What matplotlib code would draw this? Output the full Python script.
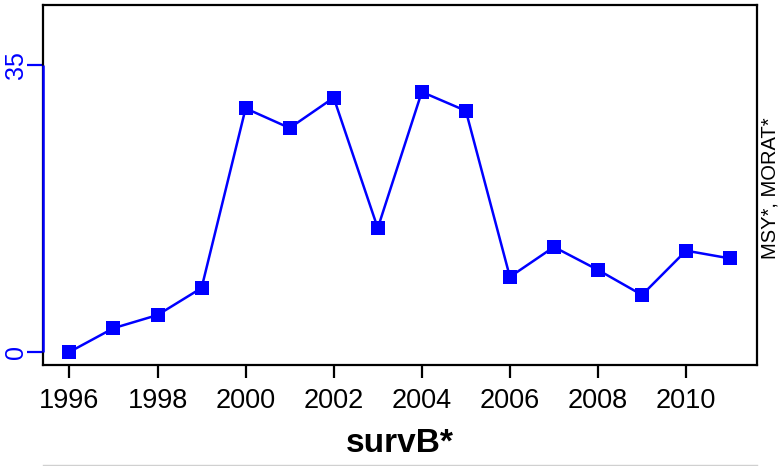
import matplotlib
matplotlib.use("Agg")
import matplotlib.pyplot as plt
from matplotlib.lines import Line2D
from matplotlib.transforms import ScaledTranslation

plt.rcParams['font.family'] = ['Liberation Sans', 'DejaVu Sans']

years = [1996, 1997, 1998, 1999, 2000, 2001, 2002, 2003,
         2004, 2005, 2006, 2007, 2008, 2009, 2010, 2011]
values = [0.0, 2.9, 4.5, 7.8, 29.7, 27.3, 31.0, 15.1,
          31.7, 29.4, 9.15, 12.8, 10.0, 6.95, 12.35, 11.4]
xticks = [1996, 1998, 2000, 2002, 2004, 2006, 2008, 2010]
yticks = [0, 35]

W, H = 783, 466
fig = plt.figure(figsize=(W / 100, H / 100), dpi=100)
ax = fig.add_axes([43 / W, 1 - 365 / H, (757 - 43) / W, (365 - 5) / H])

ax.plot(years, values, color='#0000ff', lw=1.8, marker='s', ms=9.5,
        markeredgewidth=0, zorder=3)

ax.set_xlim(1995.4, 2011.61)
ax.set_ylim(-1.59, 42.3)

for s in ax.spines.values():
    s.set_linewidth(1.6)
    s.set_color('black')

# blue left axis from 0 to 35, drawn over the box
ax.plot([0, 0], [yticks[0], yticks[-1]], color='#0000ff', lw=1.8,
        transform=ax.get_yaxis_transform(), clip_on=False, zorder=5,
        solid_capstyle='butt')

ax.set_xticks(xticks)
ax.set_xticklabels([str(t) for t in xticks])
ax.tick_params(axis='x', length=9.4, width=1.6, colors='black',
               labelsize=19.5, pad=7)

# y ticks blue, labels placed by hand (rotated, baseline next to ticks)
ax.set_yticks(yticks)
ax.set_yticklabels([])
ax.tick_params(axis='y', length=11.5, width=1.6, color='#0000ff')
lab_tr = ax.get_yaxis_transform() + ScaledTranslation(-0.20, 0, fig.dpi_scale_trans)
for t in yticks:
    ax.text(0, t, str(t), transform=lab_tr, rotation=90, rotation_mode='anchor',
            ha='center', va='baseline', fontsize=18, color='#0000ff',
            clip_on=False)

fig.text(400 / W, 1 - 443 / H, 'survB*', fontsize=24, fontweight='bold',
         ha='center', va='center')
fig.text(770 / W, 1 - 188 / H, 'MSY*, MORAT*', fontsize=14.5,
         rotation=90, ha='center', va='center')

fig.add_artist(Line2D([43 / W, 757 / W], [1 - 465 / H, 1 - 465 / H],
                      color='#d0d0d0', lw=1, transform=fig.transFigure))

fig.savefig('out.png', dpi=100)
